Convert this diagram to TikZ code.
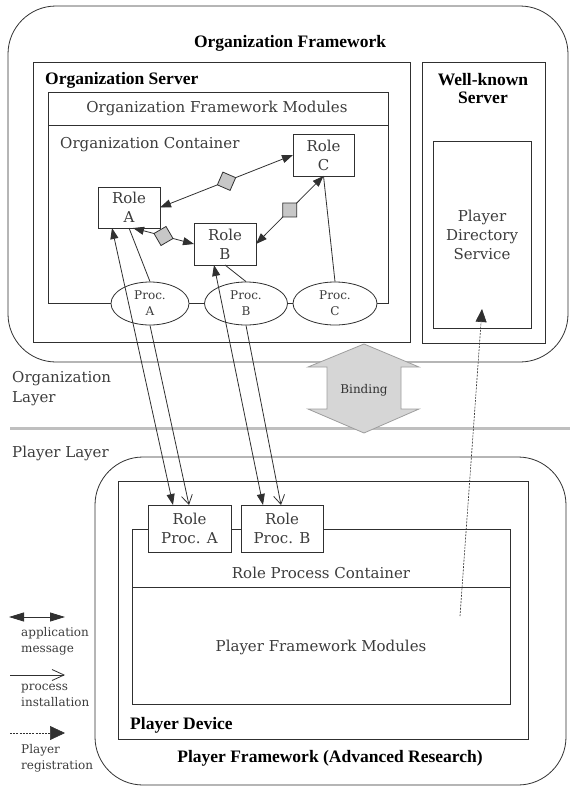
\documentclass[tikz,border=0pt]{standalone}
\usepackage{fontspec}
\setmainfont{DejaVu Serif}
\newfontfamily\ttlfont{Liberation Serif}
\usetikzlibrary{arrows.meta,shapes.geometric,calc}
\definecolor{ln}{HTML}{303030}
\definecolor{txt}{HTML}{3C3C3C}
\newcommand\mybox[7][]{\node[box,#1,minimum width={#4-#2},minimum height={#5-#3}] (#6) at (#2,#3) {#7};}
\begin{document}
\begin{tikzpicture}[x=1pt,y=-1pt,
  box/.style={draw=ln, line width=0.8pt, anchor=north west, inner sep=0pt, outer sep=0pt, fill=white,
    font=\fontsize{15}{19}\selectfont, text=txt, align=center},
  regtxt/.style={font=\fontsize{15}{19}\selectfont, text=txt, align=center, inner sep=0pt},
  smalltxt/.style={font=\fontsize{12}{16}\selectfont, text=txt, align=center, inner sep=0pt},
  ttl/.style={font=\ttlfont\bfseries\fontsize{17.5}{18}\selectfont, text=black, inner sep=0pt, align=center},
  conn/.style={draw=ln, line width=0.8pt},
  app/.style={conn, {Triangle[length=11pt,width=8pt]}-{Triangle[length=11pt,width=8pt]}},
  inst/.style={conn, -{Straight Barb[length=9pt,width=11pt]}},
  plreg/.style={conn, line width=0.6pt, dash pattern=on 2pt off 1.2pt, -{Triangle[length=13pt,width=11pt]}},
  diam/.style={diamond, aspect=1, draw=ln, fill=black!22, minimum width=20pt, minimum height=20pt, inner sep=0pt, line width=0.8pt},
  procell/.style={ellipse, draw=ln, fill=white, line width=0.8pt, minimum height=43pt, inner sep=0pt, smalltxt},
]
\useasboundingbox (0,0) rectangle (570,787);

% ---------- Organization framework ----------
\mybox[rounded corners=48pt]{8}{6}{568}{362}{OF}{}
\mybox{33}{62}{410}{342}{OS}{}
\mybox{48}{92}{388}{125}{OFM}{}
\mybox{48}{125}{388}{303}{OC}{}
\mybox{293}{134}{354}{176}{RC}{Role\\C}
\mybox{98}{187}{160}{228}{RA}{Role\\A}
\mybox{194}{223}{256}{265}{RB}{Role\\B}
\mybox{422}{62}{545}{343}{WK}{}
\mybox{433}{141}{531}{328}{PDS}{Player\\Directory\\Service}

\node[procell, minimum width=78pt] (PA) at (150,303.5) {Proc.\\A};
\node[procell, minimum width=83pt] (PB) at (246,303.5) {Proc.\\B};
\node[procell, minimum width=84pt] (PC) at (335,303.5) {Proc.\\C};

\draw[conn] (RA.south) -- (PA.north);
\draw[conn] (RB.south) -- (PB.north);
\draw[conn] (RC.south) -- (PC.north);

\draw[app] (RA.east) -- node[diam, rotate=21.5] (dAC) {} (RC.west);
\draw[app] (RB.east) -- node[diam, rotate=45.2] (dBC) {} (RC.south);
\draw[app] ($(RA.south)+(4,0)$) -- node[diam, rotate=-14.7] (dAB) {} (RB.west);

% ---------- separator and binding ----------
\coordinate (sepL) at (10,428);
\coordinate (sepR) at (570,428);
\draw[line width=3pt, black!25] (sepL) -- (sepR);
\draw[fill=black!16, draw=black!38, line width=0.8pt]
  (364,344) -- (419,367) -- (401,367) -- (401,409) -- (419,409) -- (364,433)
  -- (308,409) -- (327,409) -- (327,367) -- (308,367) -- cycle;
\node[font=\fontsize{12}{14}\selectfont, text=black!80, inner sep=0pt] (Bind) at (364,390) {Binding};

% ---------- Player framework ----------
\mybox[rounded corners=48pt]{95}{457}{566}{785}{PF}{}
\mybox{118}{481}{528}{739}{PD}{}
\mybox{132}{529}{510}{587}{RPC}{}
\mybox{132}{587}{510}{704}{PFM}{}
\mybox{148}{505}{231}{552}{RPA}{Role\\Proc. A}
\mybox{241}{505}{323}{552}{RPB}{Role\\Proc. B}

% ---------- cross-layer arrows ----------
\draw[app] ($(RA.south west)+(14,0)$) -- ($(RPA.north)+(-16.5,0)$);
\draw[app] ($(RB.south west)+(20,0)$) -- ($(RPB.north)+(-19,0)$);
\draw[inst] (PA.south) -- ($(RPA.north)+(-0.5,0)$);
\draw[inst] (PB.south) -- ($(RPB.north)+(-1,0)$);
\coordinate (dS) at (460,616);
\coordinate (dE) at (482,309);
\draw[plreg] (dS) -- (dE);

% ---------- labels ----------
\node[ttl] (tOF) at (290,43) {Organization Framework};
\node[ttl, anchor=west] (tOS) at (45,80) {Organization Server};
\node[ttl] (tWK) at (483,89) {Well-known\\Server};
\node[regtxt] (tOFM) at (217,108) {Organization Framework Modules};
\node[regtxt, anchor=west] (tOC) at (60,145) {Organization Container};
\node[regtxt, anchor=west, align=left, font=\fontsize{15}{20}\selectfont] (tOL) at (12,389) {Organization\\Layer};
\node[regtxt, anchor=west] (tPL) at (12,453) {Player Layer};
\node[regtxt] (tRPC) at (321,573) {Role Process Container};
\node[regtxt] (tPFM) at (321,647) {Player Framework Modules};
\node[ttl, anchor=west] (tPD) at (130,725) {Player Device};
\node[ttl] (tPF) at (330,758) {Player Framework (Advanced Research)};

% ---------- legend ----------
\coordinate (l1a) at (9,617);  \coordinate (l1b) at (65,617);
\coordinate (l2a) at (10,675); \coordinate (l2b) at (65,675);
\coordinate (l3a) at (10,733); \coordinate (l3b) at (65,733);
\draw[conn, {Triangle[length=15pt,width=9pt]}-{Triangle[length=15pt,width=9pt]}] (l1a) -- (l1b);
\draw[conn, -{Straight Barb[length=12pt,width=11pt]}] (l2a) -- (l2b);
\draw[conn, line width=0.6pt, dash pattern=on 2pt off 1.2pt, -{Triangle[length=15pt,width=14pt]}] (l3a) -- (l3b);
\node[smalltxt, anchor=west, align=left] (lg1) at (21,641) {application\\message};
\node[smalltxt, anchor=west, align=left] (lg2) at (21,695.5) {process\\installation};
\node[smalltxt, anchor=west, align=left] (lg3) at (21,758) {Player\\registration};
\end{tikzpicture}
\end{document}
